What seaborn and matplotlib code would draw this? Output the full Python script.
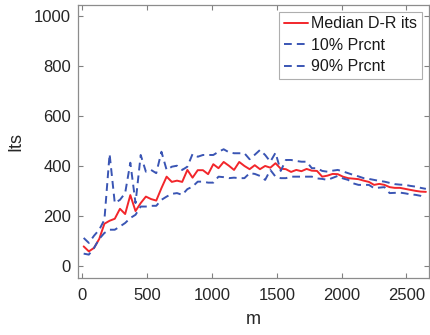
import numpy as np
import pandas as pd
import matplotlib
matplotlib.use("Agg")
import matplotlib.pyplot as plt
import seaborn as sns

sns.set_style("white")
plt.rcParams['font.family'] = ['Liberation Sans', 'DejaVu Sans']

m = [10 + 40 * k for k in range(67)]

median_its = [77, 57, 71, 107, 168, 180, 188, 228, 207, 283,
              219, 251, 277, 267, 261, 311, 357, 336, 341, 336,
              384, 353, 383, 383, 367, 407, 391, 416, 401, 384,
              416, 400, 387, 403, 387, 400, 393, 411, 389, 387,
              376, 384, 379, 388, 381, 380, 357, 361, 368, 367,
              357, 351, 349, 347, 341, 336, 324, 328, 324, 315,
              312, 312, 308, 304, 300, 297, 296]

p10 = [48, 44, 71, 107, 131, 144, 144, 157, 171, 191,
       204, 237, 237, 240, 240, 264, 277, 288, 291, 284,
       307, 317, 337, 337, 333, 333, 357, 355, 351, 353,
       351, 351, 371, 368, 360, 344, 384, 357, 351, 351,
       357, 357, 357, 357, 357, 350, 348, 344, 352, 360,
       350, 344, 330, 324, 324, 324, 311, 313, 315, 291,
       292, 293, 290, 286, 284, 280, 272]

p90 = [111, 91, 120, 144, 184, 448, 251, 264, 291, 413,
       251, 444, 377, 384, 371, 457, 384, 397, 401, 384,
       397, 448, 437, 444, 444, 444, 457, 467, 455, 451,
       451, 451, 427, 445, 464, 444, 417, 453, 380, 424,
       424, 420, 417, 417, 391, 391, 380, 377, 381, 384,
       378, 371, 364, 358, 351, 348, 344, 340, 337, 332,
       327, 325, 324, 320, 317, 312, 308]

labels = ["Median D-R its", "10% Prcnt", "90% Prcnt"]
x_label = "m"
y_label = "Its"

fig = plt.figure(figsize=(4.3, 3.35), dpi=100)
ax = fig.add_axes([0.181, 0.170, 0.817, 0.815])

red = "#f2262b"
blue = "#3a55b4"
sns.lineplot(x=m, y=median_its, ax=ax, color=red, lw=1.4, label=labels[0])
sns.lineplot(x=m, y=p10, ax=ax, color=blue, lw=1.4, label=labels[1],
             linestyle=(0, (4, 2.6)))
sns.lineplot(x=m, y=p90, ax=ax, color=blue, lw=1.4, label=labels[2],
             linestyle=(0, (4, 2.6)))

ax.set_xlim(-35, 2675)
ax.set_ylim(-50, 1046)
ax.set_xticks([0, 500, 1000, 1500, 2000, 2500])
ax.set_yticks([0, 200, 400, 600, 800, 1000])
ax.tick_params(direction='in', length=3.5, width=0.8, color='#808080',
               labelsize=12, labelcolor='#262626', top=True, right=True,
               bottom=True, left=True, pad=5)
ax.tick_params(axis='x', pad=7)
for s in ax.spines.values():
    s.set_color('#8c8c8c')
    s.set_linewidth(0.9)
ax.set_xlabel(x_label, fontsize=13, color='#262626', labelpad=6)
ax.set_ylabel(y_label, fontsize=13, color='#262626', labelpad=7)

leg = ax.legend(loc='upper right', bbox_to_anchor=(0.9785, 0.976),
                fontsize=11.5, frameon=True, fancybox=False,
                handlelength=1.5, handletextpad=0.2, borderpad=0.3,
                labelspacing=0.4, borderaxespad=0.0)
leg.get_frame().set_edgecolor('#9a9a9a')
leg.get_frame().set_linewidth(0.8)
for t in leg.get_texts():
    t.set_color('#1a1a1a')

fig.savefig("out.png", dpi=100)
